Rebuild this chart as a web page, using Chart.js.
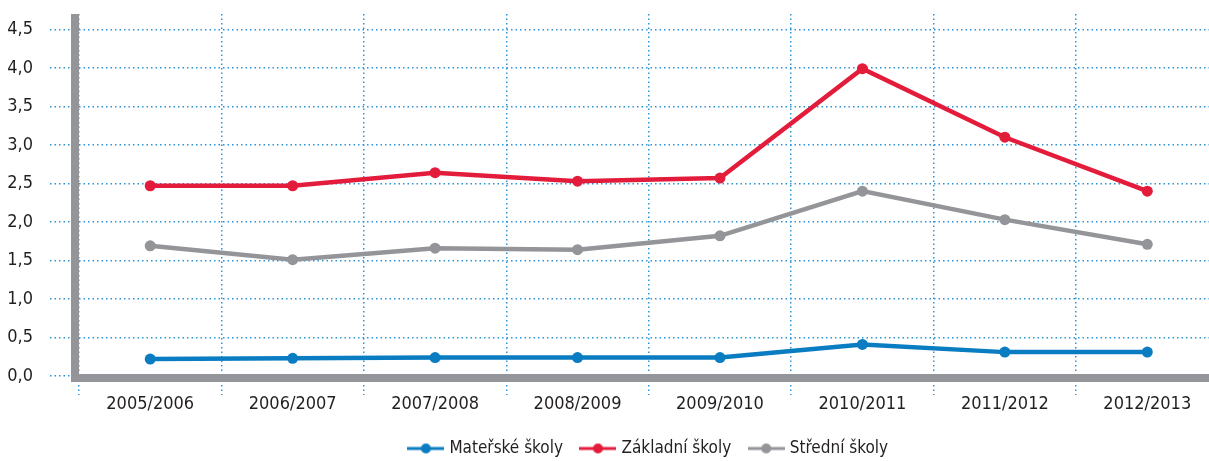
<!DOCTYPE html>
<html lang="cs">

<head>
    <meta charset="UTF-8">
    <meta name="viewport" content="width=device-width, initial-scale=1.0">
    <style>
        html,
        body {
            margin: 0;
            padding: 0;
            overflow: hidden;
            background-color: #ffffff;
        }

        .chartDiv {
            width: 1224px;
            height: 461px;
        }
    </style>
    <title>Školy</title>
</head>

<body>
    <div class="chartDiv">
        <canvas id="myChart"></canvas>
    </div>
    <script src="https://cdn.jsdelivr.net/npm/chart.js"></script>

    <script>
        const years = ['2005/2006', '2006/2007', '2007/2008', '2008/2009', '2009/2010', '2010/2011', '2011/2012', '2012/2013'];
        const materske = [0.22, 0.23, 0.24, 0.24, 0.24, 0.41, 0.31, 0.31];
        const zakladni = [2.47, 2.47, 2.64, 2.53, 2.57, 3.99, 3.10, 2.40];
        const stredni = [1.69, 1.51, 1.66, 1.64, 1.82, 2.40, 2.03, 1.71];

        const blue = '#0a7cc1';
        const red = '#e41c3c';
        const gray = '#949598';
        const gridBlue = '#2b94d6';
        const textColor = '#231f20';
        const fontFamily = '"Liberation Sans Narrow", "DejaVu Sans Condensed", sans-serif';

        // legend marker: short line with a dot in the middle
        function marker(color) {
            const c = document.createElement('canvas');
            c.width = 37;
            c.height = 12;
            const g = c.getContext('2d');
            g.fillStyle = color;
            g.fillRect(0, 4.5, 37, 3);
            g.beginPath();
            g.arc(18.5, 6, 5, 0, Math.PI * 2);
            g.fill();
            return c;
        }

        // thick gray axis lines
        const axisBands = {
            id: 'axisBands',
            beforeDatasetsDraw(chart) {
                const { ctx, chartArea: a } = chart;
                const left = Math.round(a.left) - 8;
                const bottom = Math.round(a.bottom);
                ctx.save();
                ctx.fillStyle = gray;
                ctx.fillRect(left, Math.round(a.top), 8, bottom + 6 - Math.round(a.top));
                ctx.fillRect(left, bottom - 2, chart.width, 8);
                ctx.restore();
            }
        };

        // move the legend a bit right and down
        const legendShift = {
            id: 'legendShift',
            afterLayout(chart) {
                const l = chart.legend;
                l.left += 40;
                l.right += 40;
                l.top += 6;
                l.bottom += 6;
            }
        };

        const ds = (label, data, color) => ({
            label: label,
            data: data,
            borderColor: color,
            backgroundColor: color,
            pointBackgroundColor: color,
            pointBorderWidth: 0,
            pointRadius: 5.5,
            borderWidth: 4.5,
            tension: 0
        });

        const ctx = document.getElementById('myChart');

        new Chart(ctx, {
            type: 'line',
            data: {
                labels: years,
                datasets: [
                    ds('Mateřské školy', materske, blue),
                    ds('Základní školy', zakladni, red),
                    ds('Střední školy', stredni, gray)
                ]
            },
            options: {
                responsive: true,
                maintainAspectRatio: false,
                animation: false,
                layout: {
                    padding: { top: 14, right: 5, left: 0, bottom: 0 }
                },
                plugins: {
                    tooltip: { enabled: false },
                    legend: {
                        position: 'bottom',
                        labels: {
                            usePointStyle: true,
                            pointStyleWidth: 30,
                            padding: 20,
                            color: textColor,
                            font: { family: fontFamily, size: 17 },
                            generateLabels: (chart) => chart.data.datasets.map((d, i) => ({
                                text: d.label,
                                pointStyle: marker(d.borderColor),
                                fillStyle: d.borderColor,
                                strokeStyle: d.borderColor,
                                lineWidth: 0,
                                fontColor: textColor,
                                datasetIndex: i,
                                hidden: false
                            }))
                        }
                    }
                },
                scales: {
                    y: {
                        min: 0,
                        max: 4.7,
                        afterFit: (scale) => {
                            scale.width = 79;
                            scale.paddingTop = 0;
                        },
                        afterBuildTicks: (scale) => {
                            scale.ticks = scale.ticks.filter(t => t.value <= 4.5001);
                        },
                        ticks: {
                            stepSize: 0.5,
                            includeBounds: false,
                            padding: 17,
                            color: textColor,
                            font: { family: fontFamily, size: 18 },
                            callback: (v) => v.toFixed(1).replace('.', ',')
                        },
                        grid: {
                            color: gridBlue,
                            lineWidth: 1.5,
                            tickLength: 29,
                            tickColor: gridBlue,
                            tickBorderDash: [1.5, 3]
                        },
                        border: { display: false, dash: [1.5, 3] }
                    },
                    x: {
                        offset: true,
                        afterFit: (scale) => { scale.height = 38; },
                        ticks: {
                            padding: -1,
                            color: textColor,
                            font: { family: fontFamily, size: 18 }
                        },
                        grid: {
                            offset: true,
                            color: gridBlue,
                            lineWidth: 1.5,
                            tickLength: 19,
                            tickColor: gridBlue,
                            tickBorderDash: [1.5, 3]
                        },
                        border: { display: false, dash: [1.5, 3] }
                    }
                }
            },
            plugins: [axisBands, legendShift]
        });
    </script>

</body>

</html>
